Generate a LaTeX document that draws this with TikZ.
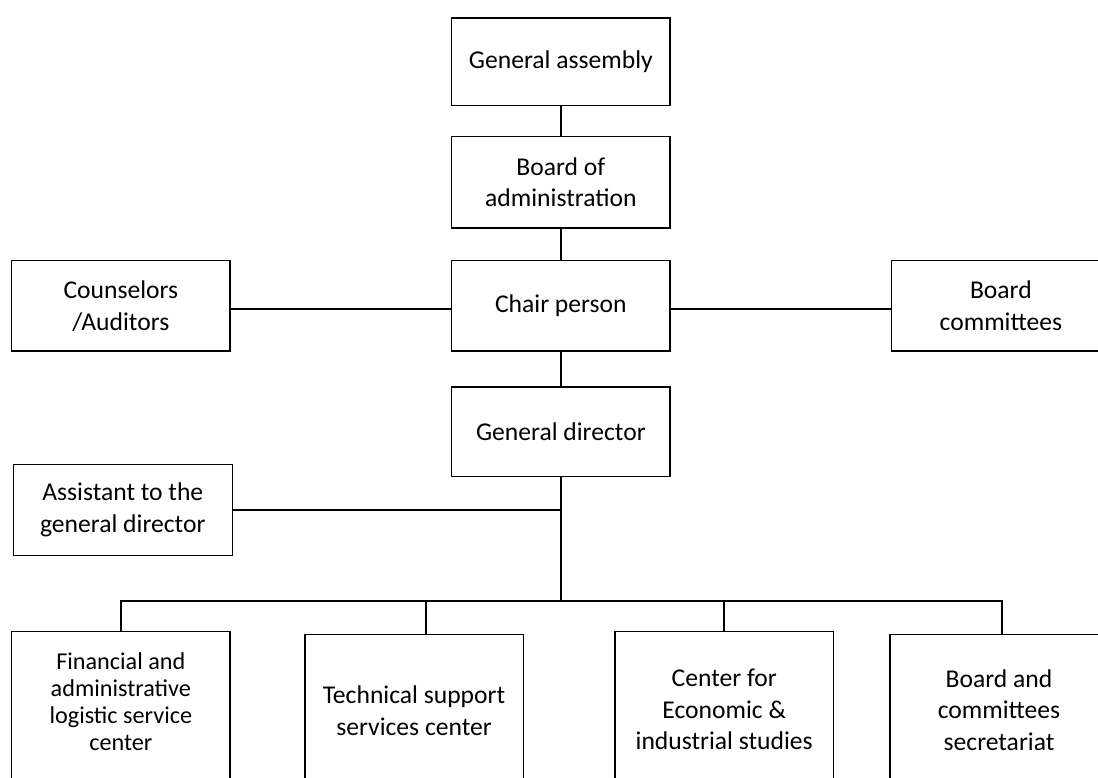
\documentclass[tikz,border=0pt]{standalone}
\usepackage{fontspec}
\setmainfont{Carlito}
\begin{document}
\begin{tikzpicture}[x=1pt,y=-1pt,
  box/.style={draw=black, line width=1.3pt, minimum width=218.3pt, inner sep=0pt,
    align=center, font=\fontsize{25.6}{31.7}\selectfont},
  panel/.style={draw=black, line width=1.3pt, minimum width=218.3pt,
    minimum height=170pt, inner sep=0pt},
  txt/.style={align=center, inner sep=0pt, font=\fontsize{25.6}{31.7}\selectfont},
  smalltxt/.style={align=center, inner sep=0pt, font=\fontsize{24.2}{27}\selectfont},
  link/.style={draw=black, line width=1.6pt}]
  % page frame
  \fill[white] (0,0) rectangle (1098,778);
  \useasboundingbox (0,0) rectangle (1098,778);
  \clip (0,0) rectangle (1098,778);

  % governing bodies
  \node[box, minimum height=87.7pt] (ga)    at (560.85,61.85)  {General assembly};
  \node[box, minimum height=91.3pt] (boa)   at (560.85,182.35) {Board of\\administration};
  \node[box, minimum height=90.3pt] (chair) at (560.85,305.85) {Chair person};
  \node[box, minimum height=89.7pt] (gd)    at (560.85,431.85) {General director};
  \node[box, minimum height=90.3pt] (coun)  at (120.85,305.85) {Counselors\\/Auditors};
  \node[box, minimum height=90.3pt] (bcom)  at (1000.85,305.85) {Board\\committees};
  \node[box, minimum height=91.4pt, minimum width=219pt] (asst) at (122.8,510)
    {Assistant to the\\general director};

  % operational units (run off the bottom edge)
  \node[panel, anchor=north] (fin)  at (120.85,631) {};
  \node[panel, anchor=north] (tech) at (414,634)    {};
  \node[panel, anchor=north] (ctr)  at (724.2,631)  {};
  \node[panel, anchor=north] (bsec) at (999,634)    {};

  \node[smalltxt] (fin-t)  at (120.85,702) {Financial and\\administrative\\logistic service\\center};
  \node[txt]      (tech-t) at (414,711)      {Technical support\\services center};
  \node[txt]      (ctr-t)  at (724.2,709.5)  {Center for\\Economic \&\\industrial studies};
  \node[txt]      (bsec-t) at (999,710)      {Board and\\committees\\secretariat};

  % vertical chain
  \draw[link] (ga) -- (boa);
  \draw[link] (boa) -- (chair);
  \draw[link] (chair) -- (gd);

  % side links of the chair person
  \draw[link] ([yshift=-3pt]coun.east) -- ([yshift=-3pt]chair.west);
  \draw[link] ([yshift=-3pt]chair.east) -- ([yshift=-3pt]bcom.west);

  % trunk below the general director
  \coordinate (hub) at (560.85,601);
  \coordinate (tap) at (gd.south |- asst.east);
  \draw[link] (gd.south) -- (hub);
  \draw[link] (asst.east) -- (tap);

  % bus to the units
  \coordinate (d1) at (120.85,601);
  \coordinate (d2) at (426,601);
  \coordinate (d3) at (724.2,601);
  \coordinate (d4) at (1001.7,601);
  \draw[link] (fin.north) -- (d1) -- (d4) -- (bsec.north -| d4);
  \draw[link] (d2) -- (tech.north -| d2);
  \draw[link] (d3) -- (ctr.north);
\end{tikzpicture}
\end{document}
